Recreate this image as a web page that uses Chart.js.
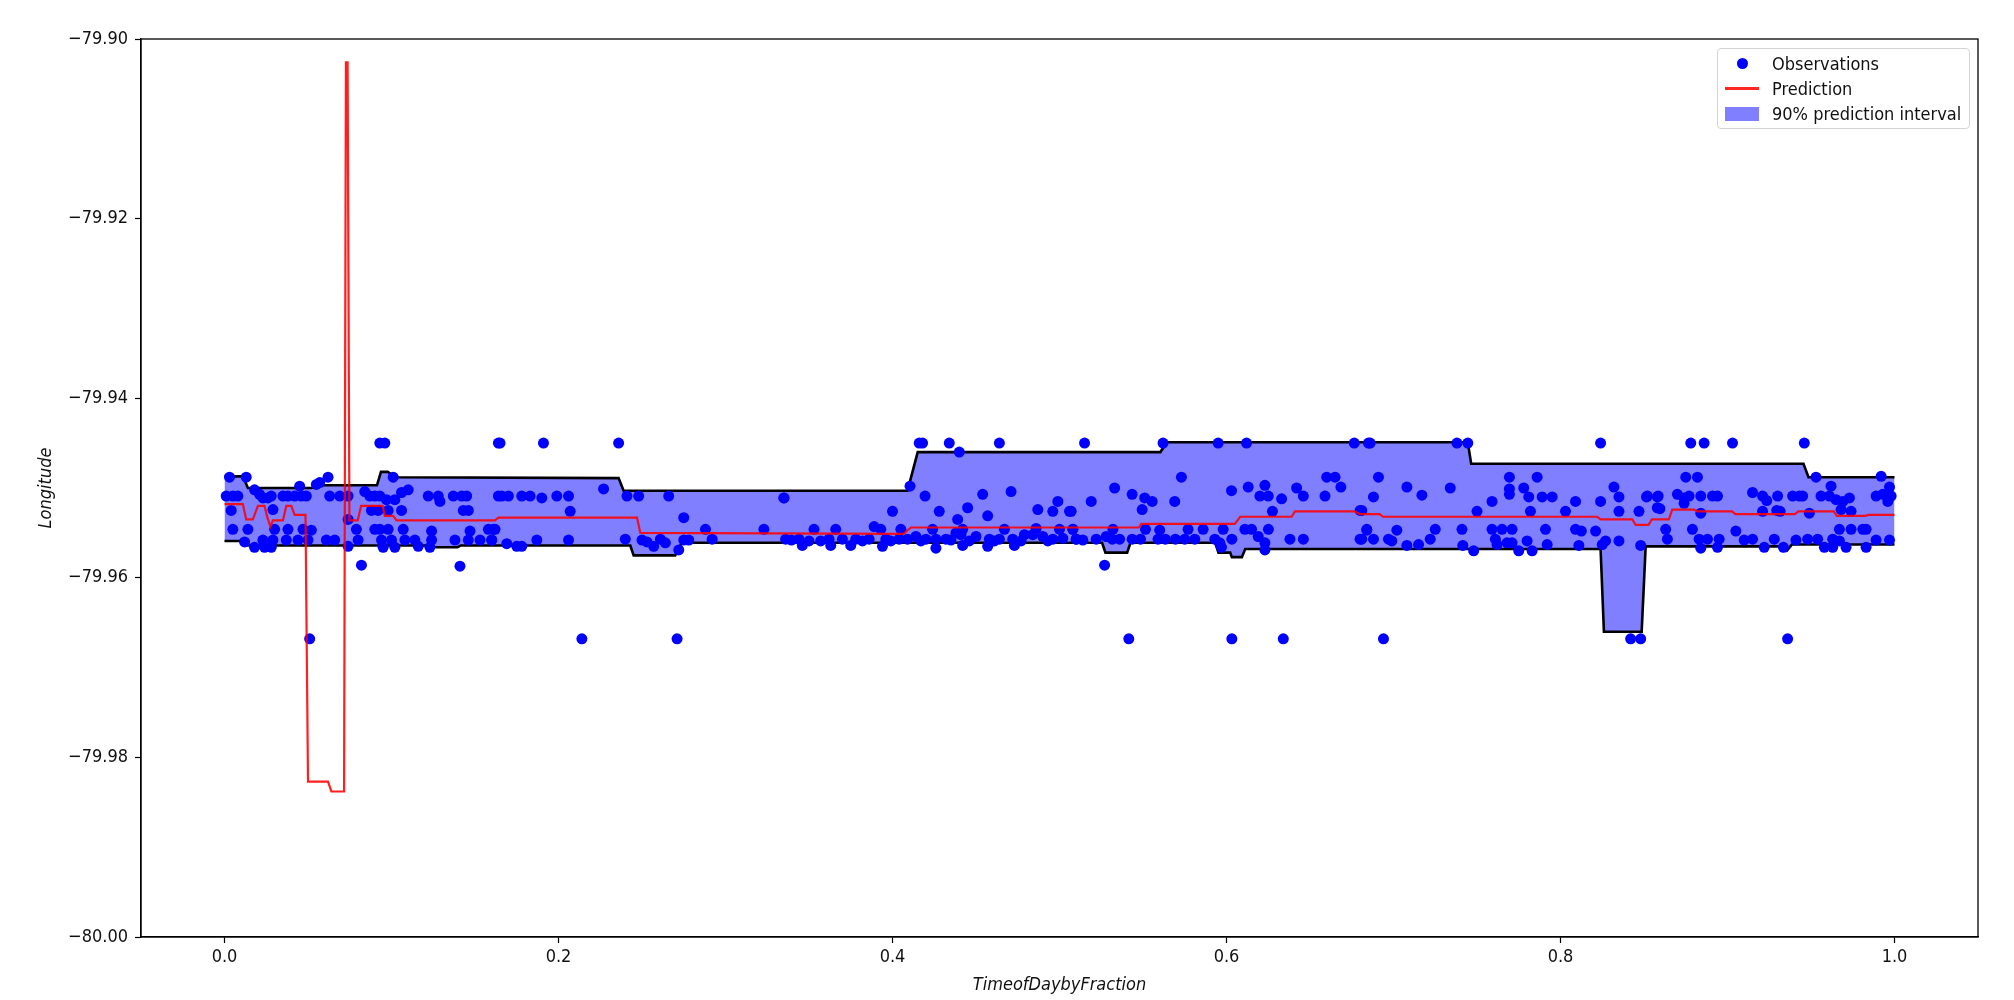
<!DOCTYPE html>
<html>
<head>
<meta charset="utf-8">
<script src="https://cdn.jsdelivr.net/npm/chart.js@4.4.1/dist/chart.umd.min.js"></script>
<style>
  html, body { margin: 0; padding: 0; background: #fff; }
  #wrap { position: relative; width: 2014px; height: 1000px; }
  canvas { display: block; }
  #legend {
    position: absolute; border: 1px solid #d4d4d4; border-radius: 4px;
    background: rgba(255,255,255,0.8); padding: 2px 8px 2px 4px;
    font: 18px 'DejaVu Sans Condensed', 'DejaVu Sans', sans-serif; color: #111;
  }
  #legend .row { display: flex; align-items: center; height: 25px; white-space: nowrap; }
  #legend .sw { width: 34px; margin: 0 13px 0 3px; display: flex; justify-content: center; align-items: center; }
  #legend .dot { width: 11px; height: 11px; border-radius: 50%; background: #0000ff; }
  #legend .line { width: 34px; height: 3px; background: rgba(255,0,0,0.85); }
  #legend .patch { width: 34px; height: 14px; background: rgba(0,0,255,0.5); }
</style>
</head>
<body>
<div id="wrap">
  <canvas id="c" width="2014" height="1000"></canvas>
  <div id="legend"></div>
</div>
<script>
// ---------------- data ----------------
const xTicks = [0.0, 0.2, 0.4, 0.6, 0.8, 1.0];
const yTicks = [-80.00, -79.98, -79.96, -79.94, -79.92, -79.90];
const xTitle = 'TimeofDaybyFraction';
const yTitle = 'Longitude';
const legendLabels = ['Observations', 'Prediction', '90% prediction interval'];

// model prediction (step-wise)
const predX = [0.000,0.011,0.013,0.017,0.020,0.024,0.0257,0.0275,0.029,0.035,0.037,0.040,0.042,0.0485,0.050,0.062,0.064,0.0716,0.0727,0.0737,0.0748,0.0798,0.0818,0.0947,0.096,0.101,0.103,0.162,0.164,0.247,0.249,0.4066,0.411,0.5475,0.549,0.605,0.6082,0.639,0.641,0.6768,0.6798,0.6917,0.6937,0.822,0.824,0.843,0.845,0.8527,0.8547,0.8649,0.8669,0.880,0.882,0.9027,0.9047,0.9403,0.9425,0.9636,0.9655,0.9825,0.9845,1.000];
const predY = [-79.9518,-79.9518,-79.9535,-79.9535,-79.9520,-79.9520,-79.9533,-79.9543,-79.9536,-79.9536,-79.9520,-79.9520,-79.9530,-79.9530,-79.9827,-79.9827,-79.9838,-79.9838,-79.9026,-79.9026,-79.9536,-79.9536,-79.9520,-79.9520,-79.9531,-79.9531,-79.9536,-79.9536,-79.9533,-79.9533,-79.9550,-79.9551,-79.9544,-79.9544,-79.9540,-79.9540,-79.9532,-79.9532,-79.9526,-79.9526,-79.9529,-79.9529,-79.9532,-79.9532,-79.9535,-79.9535,-79.9541,-79.9541,-79.9535,-79.9535,-79.9524,-79.9524,-79.9526,-79.9526,-79.9529,-79.9529,-79.9526,-79.9526,-79.9531,-79.9531,-79.9530,-79.9530];

// upper bound of 90% interval
const upperX = [0.000,0.011,0.014,0.052,0.058,0.0913,0.0937,0.0977,0.1027,0.236,0.239,0.409,0.4151,0.5604,0.5644,0.7445,0.7465,0.9455,0.9485,1.000];
const upperY = [-79.9487,-79.9487,-79.9500,-79.9500,-79.9497,-79.9497,-79.9482,-79.9482,-79.9488,-79.9489,-79.9503,-79.9503,-79.9460,-79.9460,-79.9449,-79.9449,-79.9473,-79.9473,-79.9488,-79.9488];

// lower bound of 90% interval
const lowerX = [0.000,0.011,0.014,0.1216,0.1236,0.1395,0.1415,0.243,0.245,0.2699,0.2738,0.5255,0.5275,0.5405,0.5425,0.5932,0.5952,0.6022,0.6032,0.6092,0.6112,0.824,0.826,0.8486,0.851,0.9315,0.9355,0.9385,1.000];
const lowerY = [-79.9559,-79.9559,-79.9564,-79.9564,-79.9566,-79.9566,-79.9564,-79.9564,-79.9575,-79.9575,-79.9561,-79.9561,-79.9572,-79.9572,-79.9561,-79.9561,-79.9572,-79.9572,-79.9577,-79.9577,-79.9568,-79.9568,-79.9660,-79.9660,-79.9565,-79.9565,-79.9570,-79.9563,-79.9563];

// observations [x, y]
const observations = [
 [0.093,-79.945],[0.096,-79.945],[0.164,-79.945],
 [0.003,-79.9488],[0.013,-79.9488],[0.062,-79.9488],[0.101,-79.9488],
 [0.045,-79.9498],[0.055,-79.9496],[0.057,-79.9494],[0.018,-79.9502],[0.021,-79.9507],
 [0.001,-79.9509],[0.005,-79.9509],[0.008,-79.9509],[0.023,-79.9511],[0.026,-79.9511],[0.028,-79.9509],[0.035,-79.9509],[0.038,-79.9509],[0.042,-79.9509],[0.046,-79.9509],[0.049,-79.9509],[0.063,-79.9509],[0.069,-79.9509],[0.074,-79.9509],[0.084,-79.9504],[0.087,-79.9509],[0.090,-79.9509],[0.093,-79.9509],[0.097,-79.9513],[0.102,-79.9513],[0.106,-79.9505],[0.110,-79.9502],[0.122,-79.9509],[0.128,-79.9509],[0.129,-79.9515],[0.137,-79.9509],[0.142,-79.9509],[0.145,-79.9509],[0.164,-79.9509],
 [0.004,-79.9525],[0.029,-79.9524],[0.088,-79.9525],[0.092,-79.9525],[0.098,-79.9525],[0.106,-79.9525],[0.143,-79.9525],[0.146,-79.9525],[0.074,-79.9535],
 [0.005,-79.9546],[0.014,-79.9546],[0.030,-79.9546],[0.038,-79.9546],[0.047,-79.9546],[0.052,-79.9547],[0.079,-79.9546],[0.090,-79.9546],[0.093,-79.9546],[0.098,-79.9546],[0.107,-79.9546],[0.124,-79.9548],[0.147,-79.9548],[0.158,-79.9546],[0.162,-79.9546],
 [0.012,-79.9560],[0.023,-79.9558],[0.029,-79.9558],[0.037,-79.9558],[0.044,-79.9558],[0.050,-79.9558],[0.061,-79.9558],[0.066,-79.9558],[0.080,-79.9558],[0.094,-79.9558],[0.100,-79.9558],[0.108,-79.9558],[0.114,-79.9558],[0.124,-79.9558],[0.138,-79.9558],[0.146,-79.9558],[0.153,-79.9558],[0.160,-79.9558],
 [0.018,-79.9566],[0.024,-79.9566],[0.028,-79.9566],[0.074,-79.9565],[0.095,-79.9566],[0.102,-79.9566],[0.116,-79.9565],[0.123,-79.9566],
 [0.082,-79.9586],[0.141,-79.9587],[0.051,-79.9668],

 [0.165,-79.945],[0.191,-79.945],[0.236,-79.945],[0.227,-79.9501],
 [0.166,-79.9509],[0.170,-79.9509],[0.178,-79.9509],[0.183,-79.9509],[0.190,-79.9511],[0.199,-79.9509],[0.206,-79.9509],[0.241,-79.9509],[0.248,-79.9509],[0.266,-79.9509],[0.335,-79.9511],
 [0.207,-79.9526],[0.275,-79.9533],
 [0.161,-79.9546],[0.288,-79.9546],[0.323,-79.9546],
 [0.160,-79.9558],[0.169,-79.9562],[0.175,-79.9565],[0.178,-79.9565],[0.187,-79.9558],[0.206,-79.9558],[0.240,-79.9557],[0.250,-79.9558],[0.253,-79.9560],[0.257,-79.9565],[0.261,-79.9557],[0.264,-79.9561],[0.272,-79.9569],[0.275,-79.9558],[0.278,-79.9558],[0.292,-79.9557],[0.336,-79.9557],
 [0.214,-79.9668],[0.271,-79.9668],

 [0.416,-79.945],[0.418,-79.945],[0.434,-79.945],[0.464,-79.945],[0.440,-79.9460],[0.4105,-79.9498],
 [0.335,-79.9511],[0.4195,-79.9509],[0.454,-79.9507],[0.471,-79.9504],
 [0.400,-79.9526],[0.428,-79.9526],[0.445,-79.9522],[0.487,-79.9524],[0.496,-79.9526],[0.506,-79.9526],[0.499,-79.9515],
 [0.439,-79.9535],[0.457,-79.9531],
 [0.353,-79.9546],[0.366,-79.9546],[0.389,-79.9543],[0.393,-79.9546],[0.405,-79.9546],[0.424,-79.9546],[0.442,-79.9546],[0.467,-79.9546],[0.486,-79.9545],[0.500,-79.9546],[0.508,-79.9546],
 [0.3395,-79.9558],[0.344,-79.9557],[0.362,-79.9557],[0.370,-79.9557],[0.378,-79.9557],[0.386,-79.9557],[0.396,-79.9557],[0.404,-79.9557],[0.409,-79.9557],[0.414,-79.9554],[0.420,-79.9557],[0.426,-79.9557],[0.432,-79.9557],[0.438,-79.9550],[0.441,-79.9552],[0.450,-79.9554],[0.458,-79.9557],[0.464,-79.9557],[0.472,-79.9557],[0.479,-79.9552],[0.484,-79.9552],[0.490,-79.9554],[0.496,-79.9557],[0.502,-79.9556],[0.510,-79.9557],
 [0.350,-79.9559],[0.357,-79.9559],[0.382,-79.9559],[0.399,-79.9559],[0.417,-79.9559],[0.435,-79.9558],[0.446,-79.9559],[0.461,-79.9559],[0.477,-79.9559],[0.493,-79.9559],
 [0.346,-79.9564],[0.363,-79.9564],[0.375,-79.9564],[0.394,-79.9565],[0.426,-79.9567],[0.442,-79.9564],[0.457,-79.9565],[0.473,-79.9564],

 [0.515,-79.945],[0.562,-79.945],[0.595,-79.945],[0.612,-79.945],[0.6765,-79.945],[0.685,-79.945],
 [0.573,-79.9488],[0.660,-79.9488],[0.665,-79.9488],[0.6685,-79.9499],
 [0.533,-79.9500],[0.603,-79.9503],[0.613,-79.9499],[0.623,-79.9497],[0.642,-79.9500],
 [0.5435,-79.9507],[0.551,-79.9511],[0.5555,-79.9515],[0.569,-79.9515],[0.519,-79.9515],[0.620,-79.9509],[0.625,-79.9509],[0.633,-79.9512],[0.646,-79.9509],[0.659,-79.9509],
 [0.5495,-79.9524],[0.507,-79.9526],[0.6275,-79.9526],[0.680,-79.9525],
 [0.508,-79.9546],[0.532,-79.9546],[0.5515,-79.9546],[0.560,-79.9547],[0.577,-79.9546],[0.586,-79.9546],[0.598,-79.9546],[0.611,-79.9546],[0.615,-79.9546],[0.6251,-79.9546],[0.684,-79.9546],
 [0.510,-79.9557],[0.514,-79.9558],[0.522,-79.9557],[0.528,-79.9554],[0.5316,-79.9557],[0.536,-79.9557],[0.5435,-79.9557],[0.5485,-79.9557],[0.559,-79.9557],[0.5634,-79.9557],[0.5694,-79.9557],[0.575,-79.9557],[0.581,-79.9557],[0.593,-79.9557],[0.596,-79.9561],[0.6032,-79.9557],[0.619,-79.9554],[0.623,-79.9561],[0.638,-79.9557],[0.646,-79.9557],[0.680,-79.9557],
 [0.597,-79.9566],[0.623,-79.9569],[0.527,-79.9586],
 [0.5415,-79.9668],[0.6032,-79.9668],[0.634,-79.9668],

 [0.686,-79.945],[0.738,-79.945],[0.7445,-79.945],[0.824,-79.945],
 [0.691,-79.9488],[0.7694,-79.9488],[0.786,-79.9488],
 [0.708,-79.9499],[0.734,-79.9500],[0.7694,-79.9501],[0.778,-79.9500],[0.832,-79.9499],
 [0.688,-79.9510],[0.717,-79.9508],[0.759,-79.9515],[0.7694,-79.9507],[0.781,-79.9510],[0.789,-79.9510],[0.795,-79.9510],[0.809,-79.9515],[0.824,-79.9515],[0.835,-79.9510],[0.8515,-79.9510],[0.858,-79.9510],
 [0.681,-79.9525],[0.750,-79.9526],[0.782,-79.9526],[0.803,-79.9526],[0.835,-79.9526],[0.847,-79.9526],[0.858,-79.9522],
 [0.684,-79.9547],[0.702,-79.9547],[0.725,-79.9546],[0.741,-79.9546],[0.759,-79.9546],[0.765,-79.9546],[0.771,-79.9546],[0.791,-79.9546],[0.809,-79.9546],[0.8125,-79.9548],[0.821,-79.9548],
 [0.681,-79.9557],[0.688,-79.9557],[0.697,-79.9557],[0.699,-79.9559],[0.722,-79.9557],[0.715,-79.9563],[0.708,-79.9564],[0.7415,-79.9564],[0.748,-79.9570],[0.761,-79.9557],[0.762,-79.9563],[0.768,-79.9561],[0.771,-79.9561],[0.775,-79.9570],[0.780,-79.9559],[0.783,-79.9570],[0.792,-79.9563],[0.811,-79.9564],[0.825,-79.9563],[0.827,-79.9559],[0.835,-79.9559],[0.848,-79.9564],
 [0.694,-79.9668],[0.842,-79.9668],[0.848,-79.9668],

 [0.878,-79.945],[0.886,-79.945],[0.903,-79.945],[0.946,-79.945],
 [0.875,-79.9488],[0.882,-79.9488],[0.953,-79.9488],[0.992,-79.9487],
 [0.962,-79.9498],[0.997,-79.9499],
 [0.852,-79.9509],[0.8585,-79.9509],[0.870,-79.9507],[0.874,-79.9511],[0.877,-79.9509],[0.884,-79.9509],[0.891,-79.9509],[0.894,-79.9509],[0.915,-79.9505],[0.921,-79.9509],[0.9235,-79.9514],[0.930,-79.9509],[0.939,-79.9509],[0.943,-79.9509],[0.945,-79.9509],[0.956,-79.9509],[0.961,-79.9509],[0.965,-79.9513],[0.969,-79.9515],[0.973,-79.9511],[0.989,-79.9509],[0.993,-79.9507],[0.996,-79.9515],[0.998,-79.9509],
 [0.8595,-79.9523],[0.874,-79.9517],[0.884,-79.9528],[0.921,-79.9526],[0.9295,-79.9525],[0.9315,-79.9526],[0.949,-79.9528],[0.968,-79.9524],[0.974,-79.9526],
 [0.863,-79.9546],[0.879,-79.9546],[0.905,-79.9548],[0.967,-79.9546],[0.974,-79.9546],[0.981,-79.9546],[0.983,-79.9546],
 [0.864,-79.9557],[0.883,-79.9557],[0.888,-79.9557],[0.895,-79.9557],[0.910,-79.9558],[0.915,-79.9557],[0.928,-79.9557],[0.941,-79.9558],[0.948,-79.9557],[0.954,-79.9557],[0.963,-79.9557],[0.967,-79.9559],[0.989,-79.9558],[0.997,-79.9558],
 [0.884,-79.9567],[0.894,-79.9566],[0.922,-79.9566],[0.9335,-79.9566],[0.958,-79.9566],[0.963,-79.9566],[0.971,-79.9566],[0.983,-79.9566],
 [0.936,-79.9668]
];

// ---------------- chart ----------------
const FONT = "'DejaVu Sans Condensed', 'DejaVu Sans', sans-serif";
const toXY = (xs, ys) => xs.map((x, i) => ({ x: x, y: ys[i] }));

const framePlugin = {
  id: 'frame',
  afterDraw(chart) {
    const a = chart.chartArea, c = chart.ctx;
    c.save();
    c.strokeStyle = '#000';
    c.lineWidth = 1.3;
    c.strokeRect(a.left, a.top, a.right - a.left, a.bottom - a.top);
    c.restore();
  }
};

const legendPlugin = {
  id: 'htmlLegend',
  afterRender(chart) {
    const el = document.getElementById('legend');
    const a = chart.chartArea;
    el.style.left = (a.right - 8 - el.offsetWidth) + 'px';
    el.style.top = (a.top + 9) + 'px';
  }
};

// build legend
(function () {
  const el = document.getElementById('legend');
  const sw = ['dot', 'line', 'patch'];
  legendLabels.forEach((t, i) => {
    const row = document.createElement('div');
    row.className = 'row';
    const s = document.createElement('span');
    s.className = 'sw';
    const m = document.createElement('span');
    m.className = sw[i];
    s.appendChild(m);
    const txt = document.createElement('span');
    txt.textContent = t;
    row.appendChild(s);
    row.appendChild(txt);
    el.appendChild(row);
  });
})();

const tickFont = { family: FONT, size: 18 };
const titleFont = { family: FONT, size: 18, style: 'italic' };

new Chart(document.getElementById('c'), {
  type: 'line',
  data: {
    datasets: [
      {
        label: legendLabels[0],
        data: observations.map(p => ({ x: p[0], y: p[1] })),
        showLine: false,
        pointRadius: 5.5,
        pointBorderWidth: 0,
        pointBackgroundColor: '#0000ff',
        borderColor: '#0000ff',
        backgroundColor: '#0000ff',
        order: 1
      },
      {
        label: legendLabels[1],
        data: toXY(predX, predY),
        borderColor: 'rgba(255,0,0,0.88)',
        borderWidth: 2.2,
        pointRadius: 0,
        tension: 0,
        fill: false,
        order: 0
      },
      {
        label: legendLabels[2],
        data: toXY(upperX, upperY),
        borderColor: '#000',
        borderWidth: 2.6,
        pointRadius: 0,
        tension: 0,
        fill: '+1',
        backgroundColor: 'rgba(0,0,255,0.5)',
        order: 2
      },
      {
        label: 'lower',
        data: toXY(lowerX, lowerY),
        borderColor: '#000',
        borderWidth: 2.6,
        pointRadius: 0,
        tension: 0,
        fill: false,
        order: 3
      }
    ]
  },
  options: {
    responsive: false,
    animation: false,
    events: [],
    layout: { padding: { left: 0, right: 36, top: 39, bottom: 0 } },
    plugins: {
      legend: { display: false },
      tooltip: { enabled: false },
      filler: { drawTime: 'beforeDatasetsDraw' }
    },
    scales: {
      x: {
        type: 'linear',
        min: -0.05,
        max: 1.05,
        afterBuildTicks: s => { s.ticks = xTicks.map(v => ({ value: v })); },
        afterFit: s => { s.height = 63; },
        ticks: {
          autoSkip: false, maxRotation: 0, padding: 4, color: '#111', font: tickFont,
          callback: v => Number(v).toFixed(1)
        },
        grid: { drawOnChartArea: false, drawTicks: true, tickLength: 6, tickColor: '#000', tickWidth: 1.2 },
        border: { display: true, color: '#000', width: 1.3 },
        title: { display: true, text: xTitle, color: '#111', font: titleFont, padding: { top: 0, bottom: 4 } }
      },
      y: {
        type: 'linear',
        min: -80.00,
        max: -79.90,
        afterBuildTicks: s => { s.ticks = yTicks.map(v => ({ value: v })); },
        afterFit: s => { s.width = 141; },
        ticks: {
          autoSkip: false, padding: 7, color: '#111', font: tickFont,
          callback: v => '\u2212' + Math.abs(v).toFixed(2)
        },
        grid: { drawOnChartArea: false, drawTicks: true, tickLength: 6, tickColor: '#000', tickWidth: 1.2 },
        border: { display: true, color: '#000', width: 1.3 },
        title: { display: true, text: yTitle, color: '#111', font: titleFont, padding: { top: 36, bottom: 0 } }
      }
    }
  },
  plugins: [framePlugin, legendPlugin]
});
</script>
</body>
</html>
